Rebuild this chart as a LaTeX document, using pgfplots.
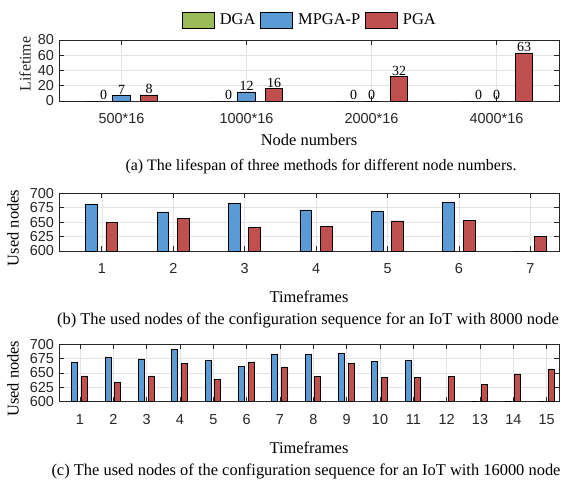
\documentclass[border=0pt]{standalone}
\usepackage{fontspec}
\setmainfont{Liberation Serif}
\newfontfamily\arial{Liberation Sans}
\usepackage{pgfplots}
\pgfplotsset{compat=1.18}
\definecolor{cg}{RGB}{155,187,89}
\definecolor{cb}{RGB}{91,155,213}
\definecolor{cr}{RGB}{192,80,77}
\definecolor{gridc}{RGB}{228,228,228}
\definecolor{axc}{RGB}{38,38,38}
\pgfplotsset{
 base/.style={
  scale only axis, width=500bp,
  tick align=inside, major tick length=5bp,
  xmajorgrids, ymajorgrids, grid style={line width=0.6bp, color=gridc},
  axis line style={line width=0.8bp, color=axc},
  tick style={line width=0.8bp, color=axc},
  ticklabel style={font=\arial\fontsize{14.5}{14.5}\selectfont, text=axc},
  /pgf/number format/assume math mode=true,
  /pgf/number format/1000 sep={},
  xticklabel style={yshift=-9bp},
  yticklabel style={xshift=-1.5bp},
  label style={font=\fontsize{16.5}{16.5}\selectfont},
 },
 barstyle/.style={ybar, draw=black, line width=0.7bp,
  legend image code/.code={\draw[##1,draw=black,line width=0.7bp] (0bp,-7.8bp) rectangle (32bp,7.8bp);}},
}
\begin{document}
\begin{tikzpicture}
\useasboundingbox (0,0) rectangle (561bp,-480bp);
% ---------- (a)
\begin{axis}[base, at={(59bp,-101bp)}, anchor=south west, height=61bp,
  xmin=0.5, xmax=4.5, ymin=0, ymax=80, ytick={0,20,...,80},
  xtick={1,2,3,4}, xticklabels={500*16,1000*16,2000*16,4000*16},
  xlabel={Node numbers},
  xlabel style={at={(axis description cs:0.5,-0.64)}, anchor=center},
  legend columns=3,
  legend style={draw=none, fill=none, at={(0.5,1)}, anchor=south, yshift=11.5bp,
    inner sep=0pt, column sep=5bp, font=\fontsize{16.5}{16.5}\selectfont,
    nodes={inner sep=0pt}},
  nodes near coords,
  every node near coord/.append style={font=\fontsize{14}{14}\selectfont, inner sep=1bp, anchor=south, text=black},
  clip=false]
\addplot[barstyle, fill=cg, bar width=0.14, bar shift=-0.22,
  every node near coord/.append style={xshift=-18bp}] coordinates {(1,0) (2,0) (3,0) (4,0)};
\addplot[barstyle, fill=cb, bar width=0.14, bar shift=0] coordinates {(1,7) (2,12) (3,0) (4,0)};
\addplot[barstyle, fill=cr, bar width=0.14, bar shift=0.22,
  every node near coord/.append style={xshift=27.5bp}] coordinates {(1,8) (2,16) (3,32) (4,63)};
\legend{DGA, MPGA-P, PGA}
\end{axis}
\node[rotate=90, inner sep=0pt, text=axc] at (25bp,-64bp) {\fontsize{16}{16}\selectfont Lifetime};
\node[font=\fontsize{16}{16}\selectfont] at (321bp,-167bp) {(a) The lifespan of three methods for different node numbers.};
% ---------- (b)
\begin{axis}[base, at={(59bp,-251bp)}, anchor=south west, height=57.7bp,
  xmin=0.4, xmax=7.4, ymin=600, ymax=700, ytick={600,625,...,700},
  xtick={1,...,7},
  xlabel={Timeframes},
  xlabel style={at={(axis description cs:0.5,-0.8)}, anchor=center},
  ylabel={Used nodes},
  ylabel style={at={(axis description cs:-0.092,0.4)}, anchor=center}]
\addplot[barstyle, fill=cb, bar width=0.165, bar shift=-0.145] coordinates {(1,680.7) (2,667.8) (3,681.9) (4,671.3) (5,668.4) (6,684.8) (7,600)};
\addplot[barstyle, fill=cr, bar width=0.165, bar shift=0.14] coordinates {(1,649.1) (2,656) (3,641.5) (4,643.3) (5,652) (6,653.2) (7,625.7)};
\end{axis}
\node[font=\fontsize{16.5}{16.5}\selectfont] at (308bp,-320bp) {(b) The used nodes of the configuration sequence for an IoT with 8000 node};
% ---------- (c)
\begin{axis}[base, at={(59bp,-401.7bp)}, anchor=south west, height=57.4bp,
  xmin=0.37, xmax=15.37, ymin=600, ymax=700, ytick={600,625,...,700},
  xtick={1,...,15},
  xlabel={Timeframes},
  xlabel style={at={(axis description cs:0.5,-0.8)}, anchor=center},
  ylabel={Used nodes},
  ylabel style={at={(axis description cs:-0.092,0.4)}, anchor=center}]
\addplot[barstyle, fill=cb, bar width=0.18, bar shift=-0.155] coordinates {(1,668.8) (2,678) (3,674.6) (4,691.5) (5,671.7) (6,661.8) (7,682.7) (8,682) (9,683.8) (10,670.5) (11,671.7) (12,600) (13,600) (14,600) (15,600)};
\addplot[barstyle, fill=cr, bar width=0.18, bar shift=0.13] coordinates {(1,645) (2,633.6) (3,645) (4,666.5) (5,639.3) (6,669.4) (7,660.7) (8,643.4) (9,667) (10,641.6) (11,642.8) (12,643.4) (13,630) (14,648.5) (15,657.2)};
\end{axis}
\node[font=\fontsize{16.5}{16.5}\selectfont] at (306bp,-471bp) {(c) The used nodes of the configuration sequence for an IoT with 16000 node};
\end{tikzpicture}
\end{document}
